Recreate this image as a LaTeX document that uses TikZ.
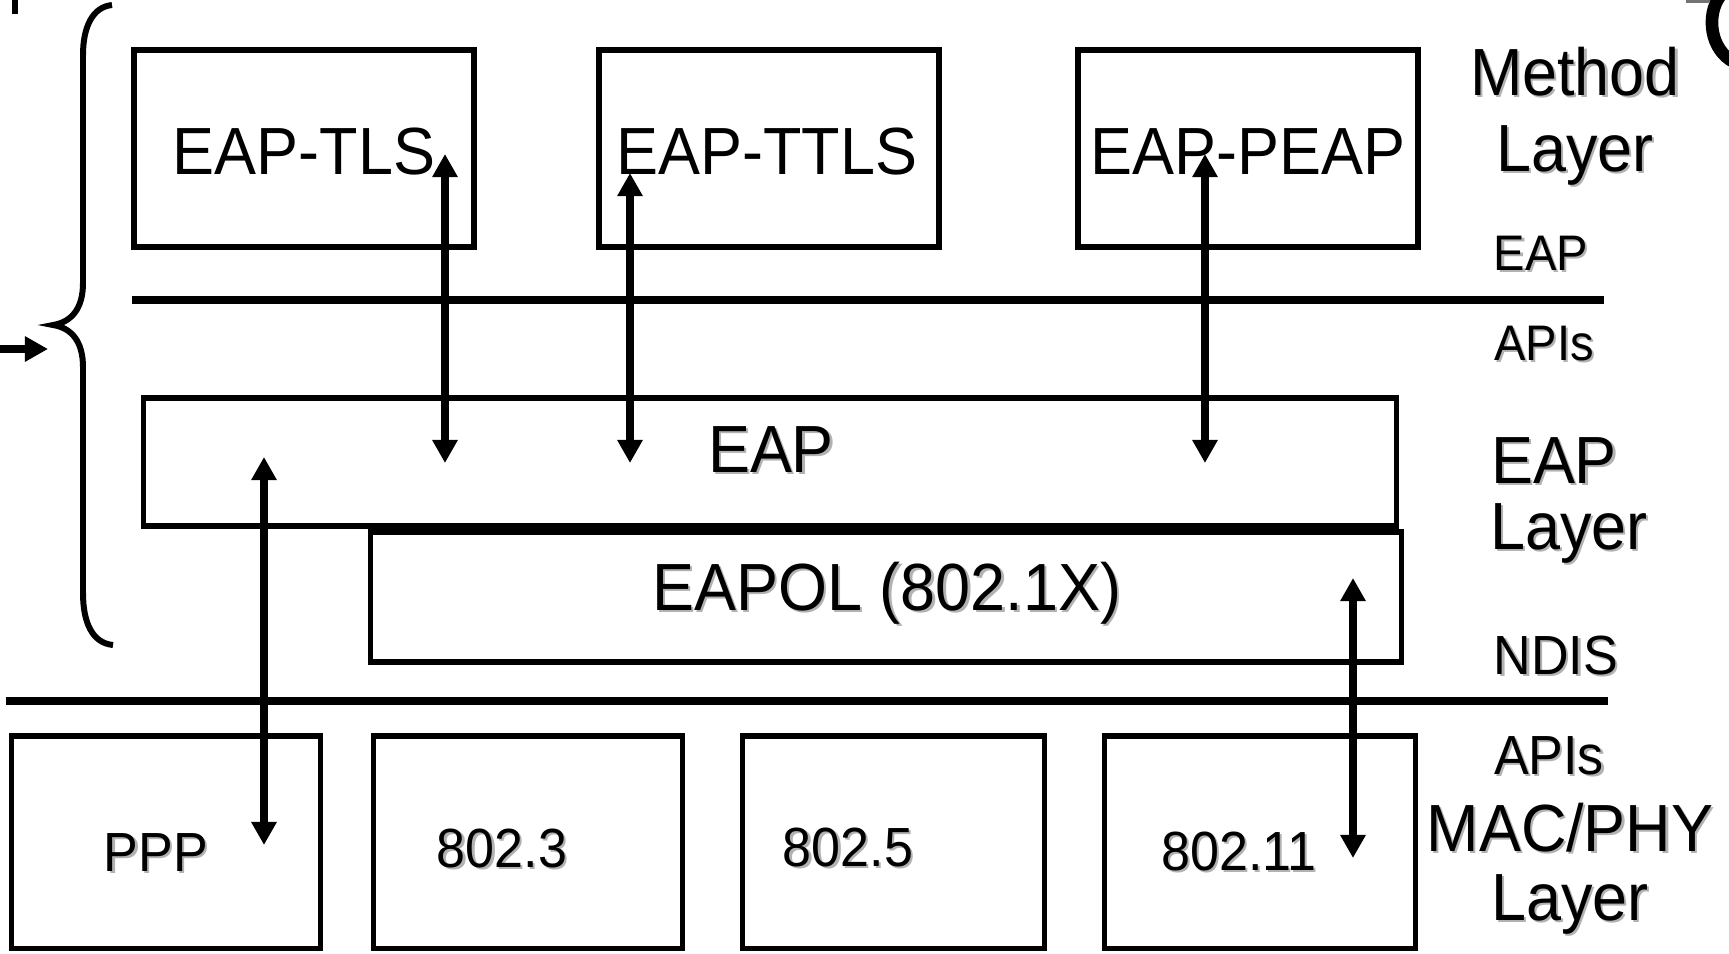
\documentclass[tikz,border=0pt]{standalone}
\usepackage{fontspec}
\setmainfont{Liberation Sans}
\usetikzlibrary{arrows.meta}
\newcommand{\shd}[1]{\makebox[0pt][l]{\raisebox{-0.022cm}{\hspace{0.022cm}\textcolor{black!30}{#1}}}#1}
\begin{document}
\begin{tikzpicture}[x=0.01cm,y=-0.01cm,
  box/.style={draw, line width=1.6pt, inner sep=0pt},
  bigtxt/.style={font=\fontsize{17.9}{20}\selectfont, inner sep=0pt, anchor=base, yscale=1.06},
  toptxt/.style={font=\fontsize{13.4}{15}\selectfont, inner sep=0pt, anchor=base, yscale=1.06},
  bottxt/.style={font=\fontsize{14.8}{17}\selectfont, inner sep=0pt, anchor=base, yscale=1.06},
  dbl/.style={line width=2pt, {Triangle[length=0.23cm,width=0.24cm]}-{Triangle[length=0.23cm,width=0.24cm]}},
  hline/.style={line width=2.1pt},
  brace/.style={line width=1.7pt}]
\useasboundingbox (0,0) rectangle (1729,954);

% method boxes
\node[box, minimum width=3.40cm, minimum height=1.975cm] (tls)  at (304,148.5) {};
\node[box, minimum width=3.40cm, minimum height=1.975cm] (ttls) at (769,148.5) {};
\node[box, minimum width=3.40cm, minimum height=1.975cm] (peap) at (1248,148.5) {};
\node[bigtxt] (tlst)  at (304,174) {EAP-TLS};
\node[bigtxt] (ttlst) at (767,174) {EAP-TTLS};
\node[bigtxt] (peapt) at (1248,174) {EAP-PEAP};

% EAP and EAPOL
\node[box, minimum width=12.525cm, minimum height=1.285cm] (eap) at (770,462) {};
\node[box, minimum width=10.305cm, minimum height=1.305cm] (eapol) at (886,597) {};
\node[bigtxt] (eapt) at (771,472) {\shd{EAP}};
\node[bigtxt] (eapolt) at (887,610) {\shd{EAPOL (802.1X)}};

% bottom boxes
\node[box, minimum width=3.085cm, minimum height=2.125cm] (ppp) at (166,842) {};
\node[box, minimum width=3.085cm, minimum height=2.125cm] (b3) at (528,842) {};
\node[box, minimum width=3.015cm, minimum height=2.125cm] (b5) at (893.5,842) {};
\node[box, minimum width=3.105cm, minimum height=2.125cm] (b11) at (1260,842) {};
\node[bottxt] (pppt) at (156,871) {\shd{PPP}};
\node[bottxt] (b3t) at (502,867) {\shd{802.3}};
\node[bottxt] (b5t) at (848,866) {\shd{802.5}};
\node[bottxt] (b11t) at (1239,870) {\shd{802.11}};

% horizontal API lines
\coordinate (l1a) at (132,300); \coordinate (l1b) at (1604,300);
\coordinate (l2a) at (6,701);   \coordinate (l2b) at (1608,701);
\draw[hline] (l1a) -- (l1b);
\draw[hline] (l2a) -- (l2b);

% right labels
\node[bigtxt] (m1) at (1575,95) {\shd{Method}};
\node[bigtxt] (m2) at (1575,171) {\shd{Layer}};
\node[toptxt] (e1) at (1541,270) {\shd{EAP}};
\node[toptxt] (e2) at (1544,360) {\shd{APIs}};
\node[bigtxt] (e3) at (1554,483) {\shd{EAP}};
\node[bigtxt] (e4) at (1569,549) {\shd{Layer}};
\node[bottxt] (n1) at (1556,674) {\shd{NDIS}};
\node[bottxt] (n2) at (1549,774) {\shd{APIs}};
\node[bigtxt] (p1) at (1570,851) {\shd{MAC/PHY}};
\node[bigtxt] (p2) at (1570,920) {\shd{Layer}};

% double arrows
\coordinate (a1t) at (445,154);  \coordinate (a1b) at (445,463);
\coordinate (a2t) at (630,173);  \coordinate (a2b) at (630,463);
\coordinate (a3t) at (1205,154); \coordinate (a3b) at (1205,463);
\coordinate (a4t) at (264,457);  \coordinate (a4b) at (264,845);
\coordinate (a5t) at (1353,578); \coordinate (a5b) at (1353,858);
\draw[dbl] (a1t) -- (a1b);
\draw[dbl] (a2t) -- (a2b);
\draw[dbl] (a3t) -- (a3b);
\draw[dbl] (a4t) -- (a4b);
\draw[dbl] (a5t) -- (a5b);

% brace
\coordinate (br1) at (112,5);
\coordinate (br2) at (83,55);
\coordinate (br3) at (83,283);
\coordinate (brtip) at (53,325);
\coordinate (br4) at (83,367);
\coordinate (br5) at (83,593);
\coordinate (br6) at (113,645);
\draw[brace] (br1) .. controls (92,7) and (83,28) .. (br2) -- (br3)
  .. controls (83,308) and (72,322) .. (brtip)
  .. controls (72,328) and (83,342) .. (br4) -- (br5)
  .. controls (83,622) and (92,643) .. (br6);

% small arrow at the left
\coordinate (sa1) at (0,349); \coordinate (sa2) at (48,349);
\draw[line width=2.2pt, -{Triangle[length=0.23cm,width=0.24cm]}] (sa1) -- (sa2);

% cut-off fragments at the edges
\fill (12,0) rectangle (18,14);
\draw[line width=3.6pt] (1734,62) .. controls (1710,50) and (1706,15) .. (1720,-4);
\draw[black!55, line width=1.2pt] (1686,1) -- (1710,1);
\end{tikzpicture}
\end{document}
